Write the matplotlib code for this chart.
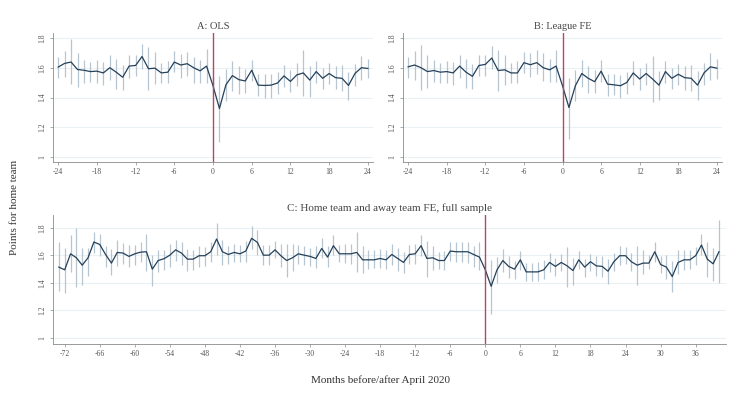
import numpy as np
import matplotlib
matplotlib.use("Agg")
import matplotlib.pyplot as plt

plt.rcParams['font.family'] = ['Liberation Serif', 'DejaVu Serif']

# Panel A: OLS (months -24..24)
months_ab = list(range(-24, 25))
a_est = [1.604, 1.629, 1.638, 1.588, 1.583, 1.574, 1.577, 1.565, 1.600, 1.570,
         1.536, 1.611, 1.615, 1.675, 1.593, 1.597, 1.565, 1.570, 1.638, 1.618,
         1.627, 1.600, 1.579, 1.611, 1.479, 1.326, 1.485, 1.547, 1.520, 1.511,
         1.583, 1.483, 1.481, 1.483, 1.497, 1.545, 1.508, 1.552, 1.565, 1.517,
         1.574, 1.529, 1.561, 1.533, 1.529, 1.481, 1.561, 1.600, 1.595]
a_hi = [1.675, 1.713, 1.793, 1.697, 1.650, 1.638, 1.650, 1.638, 1.684, 1.661,
        1.620, 1.684, 1.684, 1.757, 1.738, 1.707, 1.629, 1.643, 1.711, 1.695,
        1.707, 1.675, 1.652, 1.723, 1.535, 1.542, 1.590, 1.647, 1.613, 1.588,
        1.652, 1.561, 1.556, 1.561, 1.574, 1.620, 1.583, 1.629, 1.720, 1.611,
        1.647, 1.600, 1.629, 1.611, 1.615, 1.574, 1.627, 1.679, 1.661]
a_lo = [1.531, 1.538, 1.490, 1.470, 1.500, 1.506, 1.500, 1.483, 1.520, 1.456,
        1.451, 1.529, 1.547, 1.588, 1.447, 1.488, 1.497, 1.500, 1.570, 1.533,
        1.547, 1.500, 1.500, 1.499, 1.425, 1.100, 1.374, 1.442, 1.424, 1.428,
        1.510, 1.410, 1.400, 1.400, 1.424, 1.470, 1.437, 1.474, 1.410, 1.406,
        1.497, 1.460, 1.488, 1.456, 1.442, 1.383, 1.479, 1.520, 1.529]

# Panel B: League FE
b_est = [1.606, 1.618, 1.600, 1.574, 1.581, 1.570, 1.574, 1.565, 1.611, 1.570,
         1.542, 1.615, 1.622, 1.665, 1.581, 1.586, 1.565, 1.565, 1.634, 1.620,
         1.634, 1.600, 1.586, 1.611, 1.479, 1.333, 1.479, 1.561, 1.529, 1.506,
         1.577, 1.490, 1.485, 1.479, 1.501, 1.565, 1.524, 1.561, 1.524, 1.483,
         1.574, 1.529, 1.556, 1.533, 1.529, 1.483, 1.565, 1.606, 1.597]
b_hi = [1.675, 1.711, 1.752, 1.684, 1.650, 1.633, 1.647, 1.638, 1.688, 1.661,
        1.624, 1.688, 1.688, 1.747, 1.720, 1.688, 1.633, 1.643, 1.707, 1.697,
        1.716, 1.697, 1.661, 1.718, 1.535, 1.533, 1.583, 1.652, 1.611, 1.583,
        1.652, 1.561, 1.561, 1.552, 1.574, 1.643, 1.597, 1.633, 1.679, 1.579,
        1.647, 1.600, 1.624, 1.611, 1.615, 1.579, 1.633, 1.697, 1.661]
b_lo = [1.533, 1.520, 1.451, 1.465, 1.506, 1.500, 1.500, 1.483, 1.529, 1.465,
        1.460, 1.542, 1.547, 1.588, 1.442, 1.483, 1.497, 1.497, 1.565, 1.538,
        1.561, 1.510, 1.506, 1.501, 1.425, 1.123, 1.378, 1.470, 1.433, 1.428,
        1.506, 1.410, 1.415, 1.400, 1.424, 1.483, 1.447, 1.483, 1.369, 1.383,
        1.497, 1.456, 1.483, 1.451, 1.442, 1.383, 1.483, 1.520, 1.524]

# Panel C: home and away team FE, full sample (months -73..40)
months_c = list(range(-73, 41))
c_est = [1.515, 1.495, 1.612, 1.583, 1.529, 1.583, 1.698, 1.680, 1.607, 1.544,
         1.622, 1.617, 1.593, 1.612, 1.624, 1.627, 1.500, 1.563, 1.576, 1.602,
         1.641, 1.617, 1.573, 1.573, 1.598, 1.598, 1.627, 1.720, 1.627, 1.607,
         1.622, 1.612, 1.632, 1.725, 1.695, 1.602, 1.602, 1.641, 1.598, 1.563,
         1.583, 1.612, 1.602, 1.593, 1.578, 1.651, 1.588, 1.671, 1.612, 1.612,
         1.612, 1.622, 1.568, 1.568, 1.568, 1.578, 1.568, 1.607, 1.578, 1.549,
         1.607, 1.612, 1.671, 1.578, 1.583, 1.563, 1.563, 1.632, 1.627, 1.627,
         1.627, 1.607, 1.588, 1.495, 1.375, 1.495, 1.563, 1.520, 1.500, 1.568,
         1.480, 1.480, 1.480, 1.495, 1.549, 1.520, 1.549, 1.524, 1.490, 1.568,
         1.515, 1.554, 1.524, 1.520, 1.485, 1.554, 1.598, 1.598, 1.554, 1.529,
         1.544, 1.544, 1.627, 1.534, 1.515, 1.446, 1.549, 1.568, 1.568, 1.598,
         1.676, 1.573, 1.539, 1.627]
c_hi = [1.695, 1.651, 1.749, 1.802, 1.656, 1.656, 1.768, 1.754, 1.671, 1.646,
        1.715, 1.690, 1.676, 1.676, 1.695, 1.759, 1.602, 1.637, 1.641, 1.680,
        1.715, 1.700, 1.646, 1.641, 1.671, 1.661, 1.700, 1.837, 1.715, 1.671,
        1.685, 1.676, 1.705, 1.812, 1.783, 1.676, 1.676, 1.705, 1.680, 1.680,
        1.680, 1.676, 1.666, 1.651, 1.671, 1.724, 1.671, 1.749, 1.676, 1.680,
        1.685, 1.768, 1.671, 1.637, 1.637, 1.646, 1.641, 1.680, 1.656, 1.627,
        1.676, 1.680, 1.749, 1.705, 1.666, 1.627, 1.632, 1.700, 1.695, 1.700,
        1.700, 1.666, 1.695, 1.550, 1.568, 1.588, 1.646, 1.598, 1.563, 1.632,
        1.544, 1.544, 1.554, 1.568, 1.617, 1.583, 1.612, 1.661, 1.583, 1.632,
        1.573, 1.612, 1.598, 1.598, 1.573, 1.617, 1.666, 1.661, 1.617, 1.671,
        1.637, 1.602, 1.700, 1.598, 1.602, 1.563, 1.637, 1.641, 1.637, 1.661,
        1.754, 1.695, 1.656, 1.856]
c_lo = [1.339, 1.329, 1.480, 1.368, 1.388, 1.451, 1.617, 1.598, 1.519, 1.456,
        1.524, 1.539, 1.519, 1.529, 1.549, 1.490, 1.378, 1.476, 1.495, 1.519,
        1.563, 1.529, 1.490, 1.495, 1.519, 1.524, 1.549, 1.602, 1.529, 1.539,
        1.549, 1.549, 1.554, 1.646, 1.602, 1.529, 1.529, 1.583, 1.515, 1.441,
        1.485, 1.539, 1.529, 1.524, 1.505, 1.578, 1.519, 1.602, 1.549, 1.544,
        1.539, 1.480, 1.471, 1.500, 1.505, 1.505, 1.500, 1.529, 1.485, 1.471,
        1.539, 1.539, 1.598, 1.446, 1.495, 1.500, 1.495, 1.563, 1.554, 1.554,
        1.544, 1.519, 1.495, 1.440, 1.173, 1.398, 1.476, 1.432, 1.427, 1.495,
        1.412, 1.412, 1.412, 1.427, 1.480, 1.451, 1.488, 1.373, 1.383, 1.500,
        1.446, 1.490, 1.451, 1.441, 1.393, 1.485, 1.529, 1.534, 1.490, 1.388,
        1.466, 1.500, 1.554, 1.471, 1.427, 1.334, 1.461, 1.495, 1.500, 1.529,
        1.602, 1.446, 1.417, 1.398]

LINE = '#24405a'
CI = '#b6c5cf'
GRID = '#eaf0f4'
VLINE = '#bb4463'
SPINE = '#8a8a8a'

W, H = 745, 397
fig = plt.figure(figsize=(W / 100, H / 100), dpi=100)


def add_ax(left, top, right, bottom):
    return fig.add_axes([left / W, 1 - bottom / H, (right - left) / W, (bottom - top) / H])


def draw(ax, x, est, lo, hi, title, xlim, ylim, xticks, title_size):
    ax.set_axisbelow(True)
    for y in [1.0, 1.2, 1.4, 1.6, 1.8]:
        ax.axhline(y, color=GRID, lw=0.8, zorder=0)
    ax.vlines(x, lo, hi, color=CI, lw=0.9, zorder=2)
    ax.plot(x, est, color=LINE, lw=0.9, zorder=3)
    ax.axvline(0, color=VLINE, lw=1.0, zorder=4)
    ax.set_xlim(*xlim)
    ax.set_ylim(*ylim)
    ax.set_xticks(xticks)
    ax.set_xticklabels([str(t) for t in xticks])
    ax.set_yticks([1, 1.2, 1.4, 1.6, 1.8])
    ax.set_yticklabels(['1', '1.2', '1.4', '1.6', '1.8'], rotation=90, va='center')
    ax.tick_params(axis='both', labelsize=5.5, length=2.5, width=0.5,
                   color=SPINE, labelcolor='#555555', pad=2)
    for s in ['top', 'right']:
        ax.spines[s].set_visible(False)
    for s in ['left', 'bottom']:
        ax.spines[s].set_color(SPINE)
        ax.spines[s].set_linewidth(0.6)
    ax.set_title(title, fontsize=title_size, color='#444444', pad=3)


ax_a = add_ax(53, 33, 373, 162)
draw(ax_a, months_ab, a_est, a_lo, a_hi, 'A: OLS', (-24.8, 24.8), (0.967, 1.833),
     list(range(-24, 25, 6)), 7.5)

ax_b = add_ax(403, 33, 722, 162)
draw(ax_b, months_ab, b_est, b_lo, b_hi, 'B: League FE', (-24.8, 24.8), (0.967, 1.833),
     list(range(-24, 25, 6)), 7.5)

ax_c = add_ax(53, 215, 726, 344)
draw(ax_c, months_c, c_est, c_lo, c_hi, 'C: Home team and away team FE, full sample',
     (-74, 41.2), (0.954, 1.895), list(range(-72, 37, 6)), 8)

fig.text(15 / W, 1 - 207 / H, 'Points for home team', rotation=90,
         ha='center', va='center', fontsize=8, color='#333333')
fig.text(380 / W, 1 - 380 / H, 'Months before/after April 2020',
         ha='center', va='center', fontsize=8, color='#333333')

fig.savefig('out.png', dpi=100)
